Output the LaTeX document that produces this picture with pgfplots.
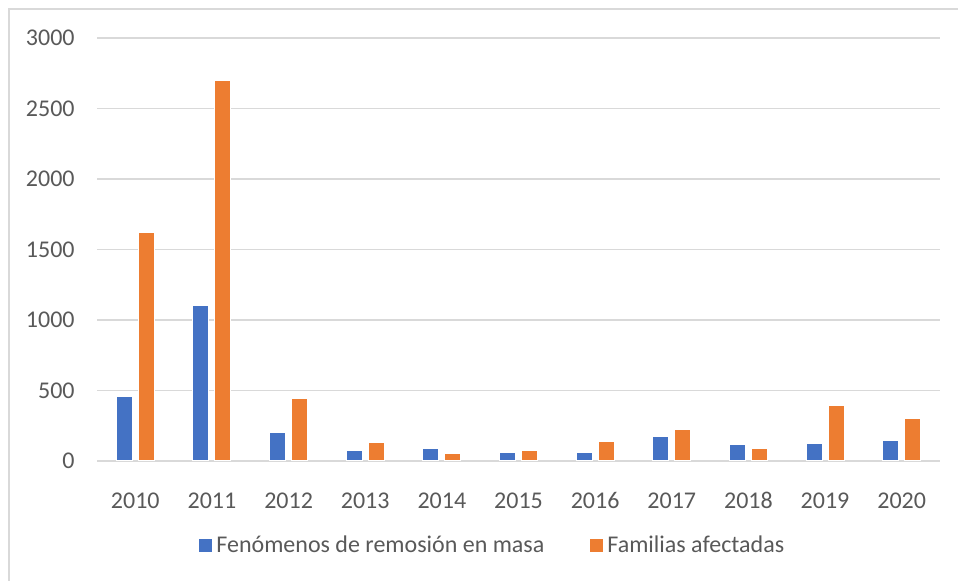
\documentclass[border=0pt]{standalone}
\usepackage{pgfplots}
\pgfplotsset{compat=1.18}
\usepackage{fontspec}
\setmainfont{Carlito}
\definecolor{cblue}{HTML}{4472C4}
\definecolor{corange}{HTML}{ED7D31}
\definecolor{gridc}{HTML}{D9D9D9}
\definecolor{txt}{HTML}{595959}
\begin{document}
\begin{tikzpicture}[x=1pt,y=1pt]
\path[use as bounding box] (0,0) rectangle (479,290.5);
\draw[gridc, line width=0.7pt] (4.5,0) -- (4.5,286) -- (479,286);
\begin{axis}[
  at={(48.5pt,60pt)}, anchor=south west,
  scale only axis, width=421.5pt, height=211.5pt,
  xmin=-0.5, xmax=10.5, ymin=0, ymax=3000,
  ybar=3pt, bar width=8pt,
  xtick={0,...,10},
  xticklabels={2010,2011,2012,2013,2014,2015,2016,2017,2018,2019,2020},
  ytick={0,500,...,3000},
  ymajorgrids, grid style={gridc, line width=0.8pt},
  axis line style={draw=none},
  tick style={draw=none},
  /pgf/number format/assume math mode=true,
  /pgf/number format/1000 sep={},
  scaled y ticks=false,
  every tick label/.append style={font=\fontsize{12}{14}\selectfont, text=txt},
  yticklabel style={anchor=east, inner sep=0pt, xshift=-11pt},
  xticklabel style={anchor=base, inner sep=0pt, yshift=-19.5pt},
  legend columns=2,
  legend style={at={(0.121,-0.1998)}, anchor=west, draw=none, fill=none,
    font=\fontsize{12}{14}\selectfont, text=txt, inner sep=0pt,
    nodes={inner sep=0pt},
    /tikz/every odd column/.append style={column sep=2pt},
    /tikz/every even column/.append style={column sep=23pt}},
  legend image code/.code={\fill[#1,draw=none] (0pt,-3.25pt) rectangle (6.5pt,3.25pt);},
]
\addplot[fill=cblue, draw=white, line width=0.5pt] coordinates {
 (0,458) (1,1104) (2,200) (3,76) (4,88) (5,57) (6,62) (7,173) (8,114) (9,121) (10,142)};
\addplot[fill=corange, draw=white, line width=0.5pt] coordinates {
 (0,1623) (1,2700) (2,446) (3,128) (4,52) (5,71) (6,135) (7,223) (8,90) (9,393) (10,299)};
\legend{Fenómenos de remosión en masa, Familias afectadas}
\end{axis}
\end{tikzpicture}
\end{document}
